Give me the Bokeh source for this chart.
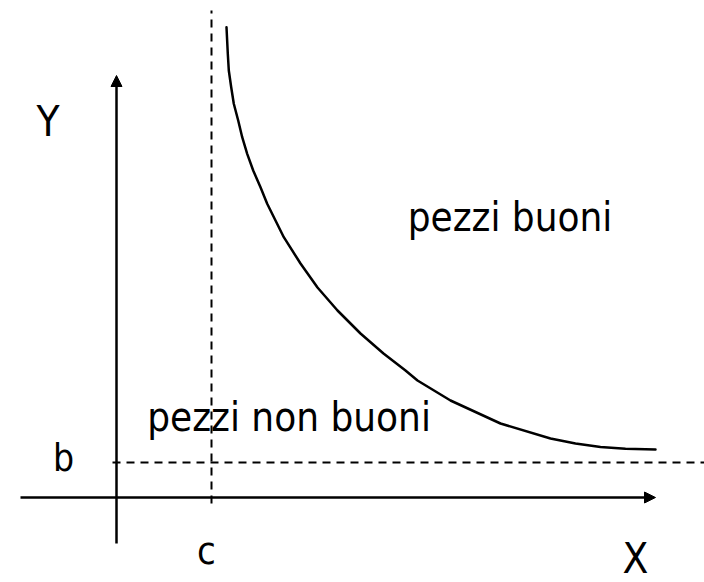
from bokeh.plotting import figure
from bokeh.models import Range1d, Arrow, NormalHead, ColumnDataSource
from bokeh.core.properties import value
from bokeh.embed import file_html
from bokeh.resources import INLINE

# Asymptotes of the acceptance curve
C_VALUE = 95     # vertical asymptote x = c
B_VALUE = 35     # horizontal asymptote y = b

# Boundary curve between good and bad parts
CURVE_X = [110.0, 111.3, 112.3, 114.7, 117.3, 121.7, 125.7, 130.7, 136.7,
           144.0, 150.7, 159.0, 167.3, 184.0, 201.0, 221.0, 244.0, 267.0,
           289.0, 301.0, 334.0, 384.0, 434.0, 459.0, 484.0, 509.0, 539.0]
CURVE_Y = [470.3, 443.7, 427.0, 410.3, 393.7, 377.0, 360.3, 343.7, 327.0,
           310.3, 293.7, 277.0, 260.3, 234.0, 210.0, 187.0, 164.0, 144.0,
           127.0, 117.0, 97.0, 74.0, 59.0, 54.0, 50.5, 48.7, 48.0]

# Axis extents
X_AXIS = [-96, 539]
Y_AXIS = [-46, 422]
V_DASH_Y = [-6, 487]
H_DASH_X = [-4, 588]

# Text labels: text, x, y, font size
LABELS = ["Y", "X", "b", "c", "pezzi buoni", "pezzi non buoni"]
LABEL_X = [-68.5, 519, -53, 90, 393.5, 172.5]
LABEL_Y = [376, -61, 39, -53, 281, 81]
LABEL_SIZE = ["42px", "42px", "37px", "38px", "40px", "40px"]

FONT = "DejaVu Sans Condensed"

p = figure(width=704, height=582, output_backend="svg", toolbar_location=None,
           x_axis_type=None, y_axis_type=None,
           x_range=Range1d(-116, 588), y_range=Range1d(-85, 497),
           min_border=0, outline_line_color=None)
p.grid.visible = False
p.background_fill_color = "white"
p.border_fill_color = "white"

# Coordinate axes with arrowheads
p.add_layout(Arrow(end=NormalHead(size=11, fill_color="black", line_color="black", line_width=1),
                   x_start=X_AXIS[0], y_start=0, x_end=X_AXIS[1], y_end=0,
                   line_width=2.5, line_color="black"))
p.add_layout(Arrow(end=NormalHead(size=11, fill_color="black", line_color="black", line_width=1),
                   x_start=0, y_start=Y_AXIS[0], x_end=0, y_end=Y_AXIS[1],
                   line_width=2.5, line_color="black"))

# Dashed asymptotes
p.line([C_VALUE, C_VALUE], V_DASH_Y, line_color="black", line_width=2, line_dash="8 6")
p.line(H_DASH_X, [B_VALUE, B_VALUE], line_color="black", line_width=2, line_dash="8 6")

# Boundary curve
p.line(CURVE_X, CURVE_Y, line_color="black", line_width=2.5, line_join="round", line_cap="round")

# Labels
src = ColumnDataSource(dict(x=LABEL_X, y=LABEL_Y, text=LABELS, size=LABEL_SIZE))
p.text(x="x", y="y", text="text", source=src, text_font=value(FONT),
       text_font_size="size", text_align="center", text_baseline="alphabetic",
       text_color="black")

open("out.html", "w").write(file_html(p, INLINE))
